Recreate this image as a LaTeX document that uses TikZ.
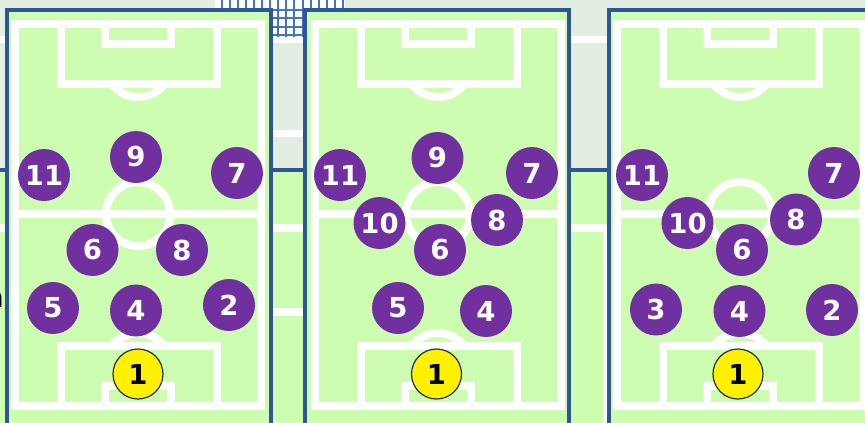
\documentclass[tikz,border=0pt]{standalone}
\usepackage{fontspec}
\setmainfont{DejaVu Sans}
\definecolor{pgreen}{HTML}{CCFDB0}
\definecolor{bggrey}{HTML}{E1EEE1}
\definecolor{pblue}{HTML}{2E5596}
\definecolor{ppurple}{HTML}{7030A0}
\definecolor{netblue}{HTML}{4472C4}
\definecolor{gknavy}{HTML}{1F3050}
\tikzset{
  wl/.style={draw=white, line width=8pt},
  border/.style={draw=pblue, line width=4pt},
  pl/.style={circle, fill=ppurple, text=white, minimum size=52pt, inner sep=0pt,
    font=\fontsize{27.5}{27.5}\selectfont\bfseries},
  gk/.style={circle, fill=yellow, draw=gknavy, line width=1.2pt, text=black, minimum size=50pt, inner sep=0pt,
    font=\fontsize{27.5}{27.5}\selectfont\bfseries},
  bgline/.style={draw=white, line width=7.5pt}
}
\begin{document}
\begin{tikzpicture}[x=1pt,y=-1pt]
\useasboundingbox (0,0) rectangle (865,423);
\clip (0,0) rectangle (865,423);
% background
\fill[bggrey] (0,0) rectangle (865,423);
\fill[pgreen] (0,170) rectangle (865,423);
\draw[border] (0,170) -- (865,170);
\draw[bgline] (0,39.5) -- (865,39.5);
\draw[bgline] (265,133.5) -- (310,133.5);
\draw[bgline] (0,228) -- (865,228);
\draw[bgline] (265,312) -- (310,312);
\draw[draw=white, line width=5pt] (605.5,224.5) -- (605.5,423);
% goal net
\fill[white] (215,0) rectangle (345,37);
\foreach \i in {0,...,15} {
  \draw[netblue, line width=2pt] (221.5+8.1*\i,0) -- (221.5+8.1*\i,37);
}
\foreach \j in {10,18.3,26.7,35} {
  \draw[netblue, line width=2pt] (215,\j) -- (345,\j);
}
% fragment of text at left edge
\node[anchor=east, inner sep=0pt, text=black, font=\fontsize{28}{28}\selectfont] (frag) at (4,300) {n};
% pitches
\foreach \o/\bl/\br in {0/7/271, 300/305/569, 602/609/873} {
  \fill[pgreen] (\bl,10) rectangle (\br,440);
  \draw[border] (\bl,440) -- (\bl,10) -- (\br,10) -- (\br,440);
  \draw[wl] (\o+15,24) rectangle (\o+261,405.5);
  \draw[wl] (\o+15,214) -- (\o+261,214);
  \draw[wl] (\o+138,214) circle[radius=32];
  \draw[wl] (\o+61,24) rectangle (\o+217,84);
  \draw[wl] (\o+105,24) rectangle (\o+171,44);
  \draw[wl] (\o+61,405.5) rectangle (\o+217,346);
  \draw[wl] (\o+105,405.5) rectangle (\o+171,386);
  \begin{scope}
    \clip (\o+0,88) rectangle (\o+280,130);
    \draw[wl] (\o+138,64) circle[radius=33];
  \end{scope}
  \begin{scope}
    \clip (\o+0,300) rectangle (\o+280,342);
    \draw[wl] (\o+138,366) circle[radius=33];
  \end{scope}
}
% pitch 1 players
\node[pl] (a11) at (44,175) {11};
\node[pl] (a9) at (136,157) {9};
\node[pl] (a7) at (237,173) {7};
\node[pl] (a6) at (92.5,250) {6};
\node[pl] (a8) at (182,250) {8};
\node[pl] (a5) at (53,308) {5};
\node[pl] (a4) at (136,310.5) {4};
\node[pl] (a2) at (229,305) {2};
\node[gk] (a1) at (138,374) {1};
% pitch 2 players
\node[pl] (b11) at (340,175) {11};
\node[pl] (b9) at (437.5,158) {9};
\node[pl] (b7) at (532,173) {7};
\node[pl] (b10) at (379.5,223) {10};
\node[pl] (b8) at (497,220) {8};
\node[pl] (b6) at (440,250) {6};
\node[pl] (b5) at (398,308) {5};
\node[pl] (b4) at (486,311) {4};
\node[gk] (b1) at (436.5,374) {1};
% pitch 3 players
\node[pl] (c11) at (642,175) {11};
\node[pl] (c7) at (834,173) {7};
\node[pl] (c10) at (687.5,223) {10};
\node[pl] (c8) at (796,219.5) {8};
\node[pl] (c6) at (742,250) {6};
\node[pl] (c3) at (656,309.5) {3};
\node[pl] (c4) at (739.5,311) {4};
\node[pl] (c2) at (832,310) {2};
\node[gk] (c1) at (738,374) {1};
\end{tikzpicture}
\end{document}
